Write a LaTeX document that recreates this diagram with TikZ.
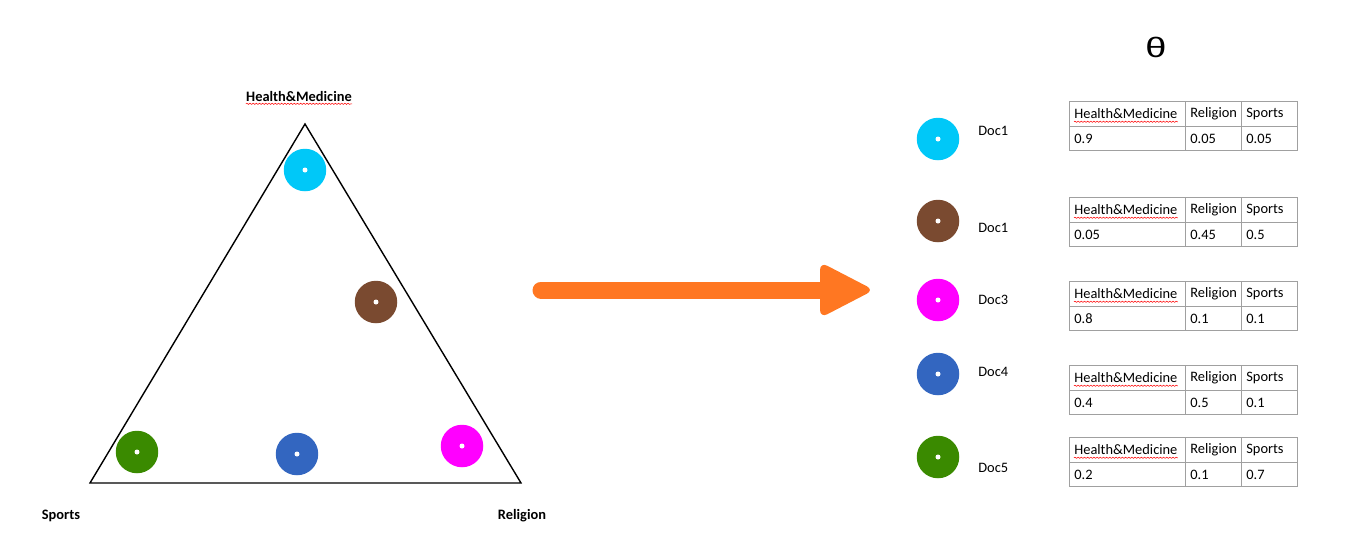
\documentclass[tikz,border=0pt]{standalone}
\usepackage{fontspec}
\setmainfont{Carlito}
\newfontfamily\thetafont{Liberation Sans}
\usetikzlibrary{decorations.pathmorphing}

\definecolor{cyanDot}{HTML}{00C8F8}
\definecolor{brownDot}{HTML}{7A4A30}
\definecolor{magentaDot}{HTML}{FF00FF}
\definecolor{blueDot}{HTML}{3366C0}
\definecolor{greenDot}{HTML}{3A8A00}
\definecolor{arrowOrange}{HTML}{FF7722}
\definecolor{gridGray}{HTML}{A0A0A0}

\tikzset{
	topic/.style={circle,fill=#1,inner sep=0,minimum size=0.85cm},
	corner/.style={font=\bfseries\fontsize{8.2}{9}\selectfont,inner sep=0},
	cell/.style={font=\fontsize{8.2}{9}\selectfont,anchor=west,inner sep=0},
	doclabel/.style={font=\fontsize{8.2}{9}\selectfont,anchor=west,inner sep=0},
	squiggle/.style={red,line width=0.3pt,decorate,decoration={snake,amplitude=0.35pt,segment length=1.8pt}},
	gridline/.style={gridGray,line width=0.55pt},
}

\begin{document}
\begin{tikzpicture}[x=0.02cm,y=-0.02cm]
	\useasboundingbox (0,0) rectangle (1366,549);

	% simplex
	\coordinate (hm) at (305,124);
	\coordinate (sp) at (90,483);
	\coordinate (re) at (521,483);
	\draw[line width=0.8pt] (hm) -- (sp) -- (re) -- cycle;

	\node[corner] (hmlab) at (299,96) {Health\&Medicine};
	\draw[squiggle] ([yshift=-1.6pt]hmlab.base west) -- ([yshift=-1.6pt]hmlab.base east);
	\node[corner] (splab) at (61,516) {Sports};
	\node[corner] (relab) at (522,516) {Religion};

	% documents in the simplex
	\foreach \col/\px/\py [count=\i] in {cyanDot/305/170, brownDot/376/302, magentaDot/462/446, blueDot/297/454, greenDot/137/452} {
		\node[topic=\col] (s\i) at (\px,\py) {};
		\fill[white] (s\i) circle (0.05cm);
	}

	% arrow
	\coordinate (from) at (541,290);
	\coordinate (to) at (874,290);
	\draw[arrowOrange, line width=0.34cm, line cap=round] (from) -- ([xshift=-0.8cm]to);
	\fill[arrowOrange, rounded corners=0.16cm] (to) -- ([xshift=-1.08cm,yshift=0.56cm]to) -- ([xshift=-1.08cm,yshift=-0.56cm]to) -- cycle;

	% theta
	\node[font=\thetafont\fontsize{16}{16}\selectfont] (theta) at (1156,47) {\scalebox{1.35}[1]{θ}};

	% documents on the right
	\foreach \col/\cy/\name/\ly [count=\i] in {cyanDot/139/Doc1/131, brownDot/221/Doc1/228, magentaDot/300/Doc3/300, blueDot/374/Doc4/372, greenDot/457/Doc5/468} {
		\node[topic=\col] (d\i) at (938,\cy) {};
		\fill[white] (d\i) circle (0.05cm);
		\node[doclabel] (n\i) at (978,\ly) {\name};
	}

	% tables
	\foreach \ty/\a/\b/\c [count=\i] in {101/0.9/0.05/0.05, 197/0.05/0.45/0.5, 281/0.8/0.1/0.1, 365/0.4/0.5/0.1, 437/0.2/0.1/0.7} {
		\draw[gridline] (1069,\ty) rectangle (1297,{\ty+49});
		\draw[gridline] (1069,{\ty+25}) -- (1297,{\ty+25});
		\draw[gridline] (1185,\ty) -- (1185,{\ty+49});
		\draw[gridline] (1241,\ty) -- (1241,{\ty+49});
		\node[cell] (h\i) at (1074,{\ty+13}) {Health\&Medicine};
		\draw[squiggle] ([yshift=-1.6pt]h\i.base west) -- ([yshift=-1.6pt]h\i.base east);
		\node[cell] at (1190,{\ty+13}) {Religion};
		\node[cell] at (1246,{\ty+13}) {Sports};
		\node[cell] at (1074,{\ty+37.5}) {\a};
		\node[cell] at (1190,{\ty+37.5}) {\b};
		\node[cell] at (1246,{\ty+37.5}) {\c};
	}

\end{tikzpicture}
\end{document}
